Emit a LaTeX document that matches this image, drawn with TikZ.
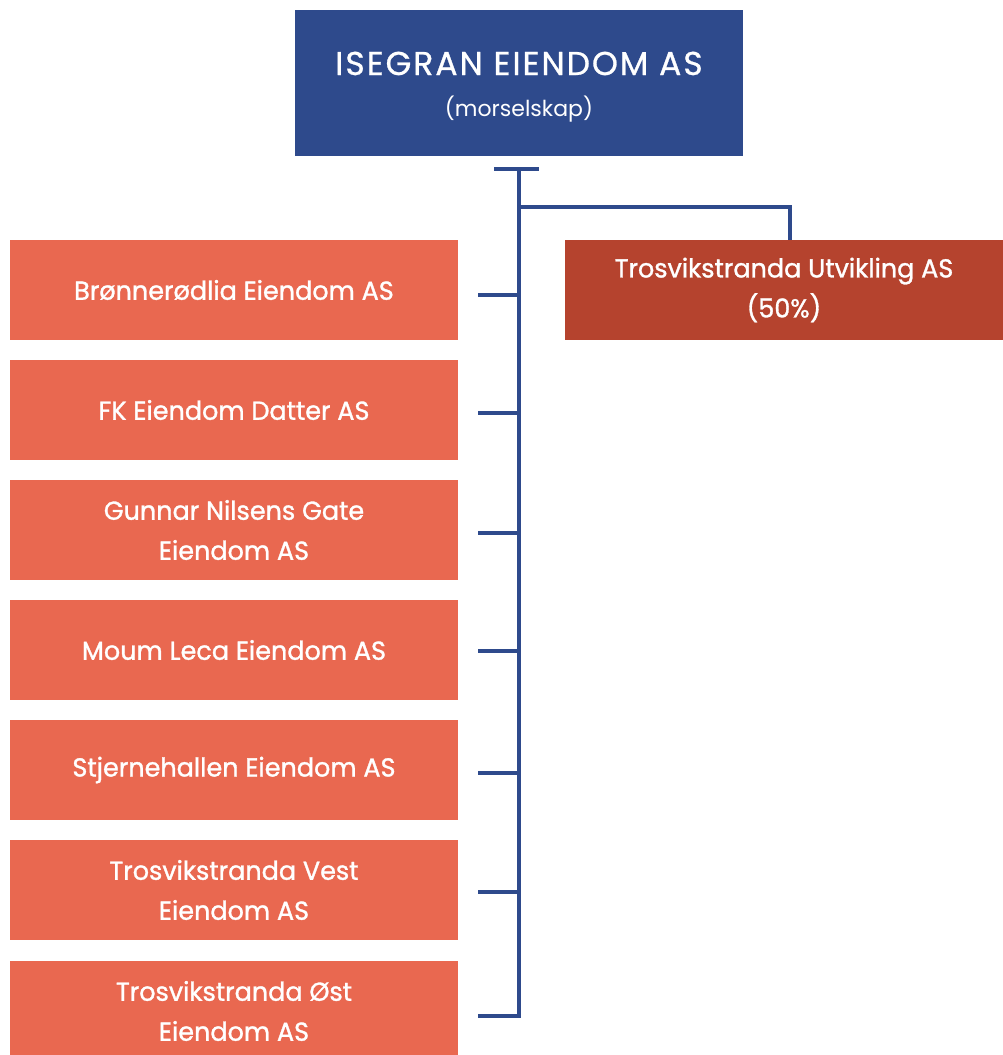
\documentclass[tikz,border=0pt]{standalone}
\usepackage{fontspec}
\setmainfont{Poppins}
\newfontfamily\boxfont{Poppins}[FakeStretch=0.98, FakeBold=1.2]
\newfontfamily\titlefont{Poppins}[LetterSpace=6, FakeBold=0.8]
\newfontfamily\subtitlefont{Poppins}
\definecolor{navy}{HTML}{2E4A8C}
\definecolor{coral}{HTML}{E96850}
\definecolor{rust}{HTML}{B5432E}
\tikzset{
  sub/.style={fill=coral, text=white, minimum width=448bp, minimum height=100bp, inner sep=0pt, align=center, font=\boxfont\fontsize{26bp}{40bp}\selectfont},
  jv/.style={fill=rust, text=white, minimum width=438bp, minimum height=100bp, inner sep=0pt, align=center, font=\boxfont\fontsize{26bp}{40bp}\selectfont},
  parentbox/.style={fill=navy, minimum width=448bp, minimum height=146bp, inner sep=0pt},
  titletext/.style={text=white, inner sep=0pt, anchor=base},
  link/.style={draw=navy, line width=3.5bp}
}
\begin{document}
\begin{tikzpicture}[x=1bp,y=-1bp]
\fill[white] (0,0) rectangle (1003,1055);
\useasboundingbox (0,0) rectangle (1003,1055);
\node[parentbox] (top) at (519,83) {};
\node[titletext, font=\titlefont\fontsize{33bp}{36bp}\selectfont] (title) at (519,75) {ISEGRAN EIENDOM AS};
\node[titletext, font=\subtitlefont\fontsize{22bp}{26bp}\selectfont] (subtitle) at (519,116) {(morselskap)};
\node[jv] (jv) at (784,290) {Trosvikstranda Utvikling AS\\(50\%)};
\node[sub] (s1) at (234,290) {Brønnerødlia Eiendom AS};
\node[sub] (s2) at (234,410) {FK Eiendom Datter AS};
\node[sub] (s3) at (234,530) {Gunnar Nilsens Gate\\Eiendom AS};
\node[sub] (s4) at (234,650) {Moum Leca Eiendom AS};
\node[sub] (s5) at (234,770) {Stjernehallen Eiendom AS};
\node[sub] (s6) at (234,890) {Trosvikstranda Vest\\Eiendom AS};
\node[sub] (s7) at (234,1011) {Trosvikstranda Øst\\Eiendom AS};
\coordinate (tl) at (494,169);
\coordinate (tr) at (539,169);
\coordinate (t0) at (519,169);
\coordinate (tb) at (519,1016);
\coordinate (jk) at (519,207);
\coordinate (jc) at (790,207);
\draw[link] (tl) -- (tr);
\draw[link] (t0) -- (tb) -- ([xshift=20bp]s7.east |- tb);
\draw[link] (jk) -- (jc) -- (jc |- jv.north);
\foreach \s/\y in {s1/295,s2/413,s3/533,s4/651,s5/773,s6/892}{
  \draw[link] ([xshift=20bp]\s.east |- 0,\y) -- (519,\y);
}
\end{tikzpicture}
\end{document}
